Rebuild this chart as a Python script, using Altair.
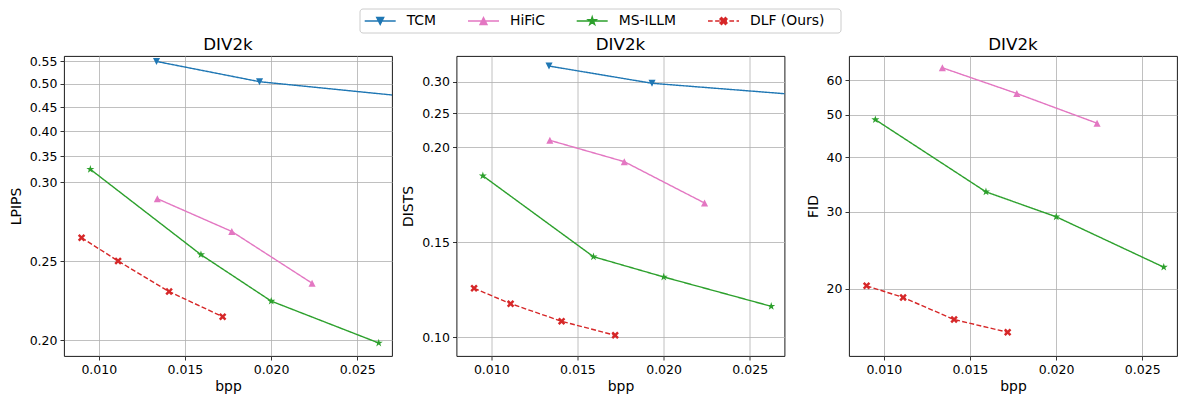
import math
import altair as alt
import pandas as pd

# ---------------- data ----------------
methods = ["TCM", "HiFiC", "MS-ILLM", "DLF (Ours)"]
colors = ["#1f77b4", "#e377c2", "#2ca02c", "#d62728"]
panel_title = "DIV2k"

tcm_bpp = [0.01335, 0.01933, 0.0350]
tcm_lpips = [0.549, 0.5044, 0.4463]
tcm_dists = [0.3248, 0.2975, 0.2639]

hific_bpp = [0.01340, 0.01772, 0.02238]
hific_lpips = [0.2894, 0.2687, 0.2360]
hific_dists = [0.2099, 0.1923, 0.1706]
hific_fid = [64.0, 55.9, 47.8]

msillm_bpp = [0.00951, 0.01593, 0.02001, 0.02625]
msillm_lpips = [0.3247, 0.2540, 0.2247, 0.1983]
msillm_dists = [0.1849, 0.1424, 0.1317, 0.1162]
msillm_fid = [48.7, 33.3, 29.2, 22.4]

dlf_bpp = [0.00900, 0.01112, 0.01408, 0.01719]
dlf_lpips = [0.2647, 0.2500, 0.2307, 0.2149]
dlf_dists = [0.1257, 0.1176, 0.1083, 0.1009]
dlf_fid = [20.3, 19.1, 17.0, 15.9]

x_ticks = [0.010, 0.015, 0.020, 0.025]
lpips_ticks = [0.20, 0.25, 0.30, 0.35, 0.40, 0.45, 0.50, 0.55]
dists_ticks = [0.10, 0.15, 0.20, 0.25, 0.30]
fid_ticks = [20, 30, 40, 50, 60]

# ---------------- table ----------------
rows = []
def add(method, bpp, lp, di, fid):
    for i, b in enumerate(bpp):
        rows.append({
            "method": method, "bpp": b,
            "LPIPS": lp[i] if lp else None,
            "DISTS": di[i] if di else None,
            "FID": fid[i] if fid else None,
        })
add("TCM", tcm_bpp, tcm_lpips, tcm_dists, None)
add("HiFiC", hific_bpp, hific_lpips, hific_dists, hific_fid)
add("MS-ILLM", msillm_bpp, msillm_lpips, msillm_dists, msillm_fid)
add("DLF (Ours)", dlf_bpp, dlf_lpips, dlf_dists, dlf_fid)
df = pd.DataFrame(rows)
legend_df = pd.DataFrame({"method": methods})
title_df = pd.DataFrame({"title": [panel_title]})

# ---------------- marker shapes ----------------
def poly(pts):
    return "M" + "L".join(f"{x:.3f},{y:.3f}" for x, y in pts) + "Z"

def tri_down(s):
    return poly([(-s, -s), (s, -s), (0, s)])

def tri_up(s):
    return poly([(-s, s), (s, s), (0, -s)])

def star(s, inner=0.381966):
    pts = []
    for k in range(10):
        r = s if k % 2 == 0 else s * inner
        a = math.radians(-90 + k * 36)
        pts.append((r * math.cos(a), r * math.sin(a)))
    return poly(pts)

def xfill(s, w=0.3):
    base = [(-w, -1), (w, -1), (w, -w), (1, -w), (1, w), (w, w), (w, 1),
            (-w, 1), (-w, w), (-1, w), (-1, -w), (-w, -w)]
    c = 1 / math.sqrt(2)
    return poly([((x - y) * c * s, (x + y) * c * s) for x, y in base])

marker_paths = [tri_down(1.0), tri_up(1.0), star(1.2), xfill(1.15)]

def legend_path(i, m=0.23):
    if i == 3:
        segs = []
        x = -1.0
        while x < 1.0:
            segs.append(f"M{x:.3f},0L{min(x + 0.30, 1.0):.3f},0")
            x += 0.46
        line = "".join(segs)
    else:
        line = "M-1,0L1,0"
    shapes = [tri_down(m), tri_up(m), star(m * 1.2), xfill(m * 1.1)]
    return line + shapes[i]

legend_paths = [legend_path(i) for i in range(4)]

color_scale = alt.Scale(domain=methods, range=colors)
legend_shape_scale = alt.Scale(domain=methods, range=legend_paths)
dash_scale = alt.Scale(domain=methods, range=[[1, 0], [1, 0], [1, 0], [5, 2.3]])

x_scale = alt.Scale(domain=[0.00798, 0.02702], nice=False, zero=False)

lpips_scale = alt.Scale(
    domain=[0.1901, 0.20, 0.25, 0.30, 0.35, 0.40, 0.45, 0.50, 0.55, 0.561],
    range=[300, 284.3, 205, 126, 100.3, 75, 51, 27.7, 5, 0],
    nice=False, zero=False)
dists_scale = alt.Scale(
    domain=[0.0900, 0.10, 0.15, 0.20, 0.25, 0.30, 0.3407],
    range=[300, 281, 186.3, 91, 57.3, 25.7, 0],
    nice=False, zero=False)
fid_scale = alt.Scale(type="log", domain=[14.03, 68.1], nice=False)

PANEL_W = 328
PANEL_H = 300

# legend layout (pixels relative to the middle panel's plot area)
legend_box = (-96.5, 384.5, -47, -23)
legend_symbol_x = [-76.3, 27.0, 135.7, 267.0]
legend_label_x = [-49.8, 53.5, 162.2, 293.5]
legend_row_y = -35


def legend_layers():
    out = [
        alt.Chart(legend_df.head(1)).mark_rect(
            fill="white", stroke="#cccccc", strokeWidth=1, cornerRadius=3
        ).encode(
            x=alt.value(legend_box[0]), x2=alt.value(legend_box[1]),
            y=alt.value(legend_box[2]), y2=alt.value(legend_box[3]),
        )
    ]
    for m, sx, lx in zip(methods, legend_symbol_x, legend_label_x):
        one = alt.Chart(legend_df).transform_filter(alt.datum.method == m)
        out.append(
            one.mark_point(filled=True, size=961, strokeWidth=1.3, opacity=1).encode(
                x=alt.value(sx), y=alt.value(legend_row_y),
                shape=alt.Shape("method:N", scale=legend_shape_scale, legend=None),
                fill=alt.Fill("method:N", scale=color_scale, legend=None),
                stroke=alt.Stroke("method:N", scale=color_scale, legend=None),
            )
        )
        out.append(
            one.mark_text(align="left", baseline="middle", font="DejaVu Sans",
                          fontSize=13.9, color="black").encode(
                x=alt.value(lx), y=alt.value(legend_row_y), text="method:N",
            )
        )
    return out


def title_layer():
    return alt.Chart(title_df).mark_text(
        align="center", baseline="alphabetic", font="DejaVu Sans",
        fontSize=16.7, color="black",
    ).encode(
        x=alt.value(PANEL_W / 2), y=alt.value(-5.7), text="title:N",
    )


def panel(metric, yscale, yticks, yfmt, with_legend=False):
    d = df[df[metric].notna()]
    base = alt.Chart(d).encode(
        x=alt.X("bpp:Q", scale=x_scale,
                axis=alt.Axis(values=x_ticks, format=".3f", title="bpp")),
        y=alt.Y(f"{metric}:Q", scale=yscale,
                axis=alt.Axis(values=yticks, format=yfmt, title=metric)),
    )
    lines = base.mark_line(clip=True, strokeWidth=1.4).encode(
        color=alt.Color("method:N", scale=color_scale, legend=None),
        strokeDash=alt.StrokeDash("method:N", scale=dash_scale, legend=None),
        order=alt.Order("bpp:Q"),
    )
    layers = [lines]
    for m, path in zip(methods, marker_paths):
        layers.append(
            base.transform_filter(alt.datum.method == m)
            .mark_point(filled=True, clip=True, size=50, opacity=1, shape=path)
            .encode(color=alt.Color("method:N", scale=color_scale, legend=None))
        )
    layers.append(title_layer())
    if with_legend:
        layers += legend_layers()
    return alt.layer(*layers).properties(width=PANEL_W, height=PANEL_H)


p1 = panel("LPIPS", lpips_scale, lpips_ticks, ".2f")
p2 = panel("DISTS", dists_scale, dists_ticks, ".2f", with_legend=True)
p3 = panel("FID", fid_scale, fid_ticks, "d")

chart = alt.hconcat(p1, p2, p3, spacing=64.5, bounds="flush").properties(
    padding={"left": 0, "top": 0, "right": 0, "bottom": 3},
).configure_view(
    stroke="black", strokeWidth=0.9,
).configure_axis(
    labelFont="DejaVu Sans", labelFontSize=12.5, labelColor="black",
    titleFont="DejaVu Sans", titleFontSize=13.9, titleFontWeight="normal",
    titleColor="black", tickColor="black", tickSize=4, tickWidth=0.8,
    labelPadding=3, domain=False, grid=True, gridColor="#b0b0b0",
    gridWidth=0.8,
).configure_axisX(titlePadding=4).configure_axisY(titlePadding=6)

chart.save("out.html", embed_options={"renderer": "svg", "actions": False})
